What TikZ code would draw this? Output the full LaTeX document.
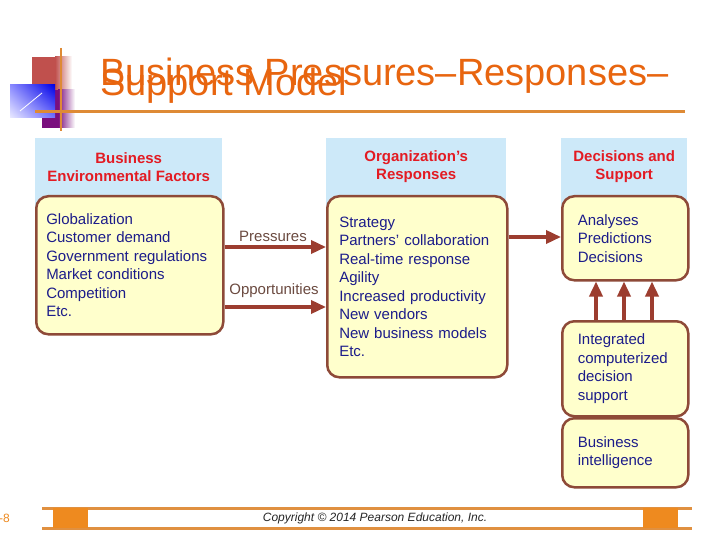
\documentclass[tikz,border=0pt]{standalone}
\usepackage{fontspec}
\setmainfont{Liberation Sans}
\usetikzlibrary{arrows.meta,shadings}
\definecolor{titleorange}{HTML}{E8650F}
\definecolor{titleline}{HTML}{DE8A35}
\definecolor{logored}{HTML}{C0504D}
\definecolor{logopurple}{HTML}{7A0F7E}
\definecolor{headfill}{HTML}{CDE9F9}
\definecolor{headred}{HTML}{E31B23}
\definecolor{boxfill}{HTML}{FFFFCC}
\definecolor{boxborder}{HTML}{8E4A38}
\definecolor{listblue}{HTML}{1C1C8A}
\definecolor{arrowc}{HTML}{9C3D2F}
\definecolor{lblc}{HTML}{6B4A40}
\definecolor{footorange}{HTML}{EE8A1F}
\definecolor{footline}{HTML}{E09040}
\tikzset{
  titletext/.style={text=titleorange, font=\fontsize{38}{38}\selectfont, inner sep=0pt, anchor=base west},
  box/.style={draw=boxborder, fill=boxfill, line width=2.5pt, rounded corners=12pt, align=left,
    inner ysep=0pt, font=\fontsize{15}{18.5}\selectfont, text=listblue, anchor=north west},
  head/.style={fill=headfill, align=center, font=\bfseries\fontsize{15}{18}\selectfont, text=headred,
    anchor=north west, inner sep=0pt, minimum height=57pt},
  arr/.style={draw=arrowc, line width=3.5pt, -{Triangle[length=15pt,width=13pt]}},
  lbl/.style={text=lblc, font=\fontsize{15}{18}\selectfont, inner sep=0pt},
}
\begin{document}
\begin{tikzpicture}[x=1pt,y=-1pt]
\useasboundingbox (0,0) rectangle (720,540);
\fill[white] (0,0) rectangle (720,540);
% logo
\fill[logored] (32,57) rectangle (55,90);
\shade[left color=logored, right color=white] (55,57) rectangle (72,90);
\fill[logopurple] (42,90) rectangle (58,128);
\shade[left color=logopurple, right color=white] (58,90) rectangle (75,128);
\shade[upper right=blue!90!black, upper left=blue!45!white, lower right=blue!55!white, lower left=blue!8!white] (10,85) rectangle (55,118);
\draw[white, line width=0.8pt] (20,111) -- (42,93);
\draw[titleline, line width=2.5pt] (61,48) -- (61,131);
\draw[titleline, line width=3pt] (35,112) -- (685,112);
% title
\node[titletext] (t1) at (100,86) {Business Pressures–Responses–};
\node[titletext] (t2) at (100,96) {Support Model};
% headers
\node[head, minimum width=187pt] (HL) at (35,138) {Business\\Environmental Factors};
\fill[headfill] (HL.south west) rectangle ++(187,15);
\node[head, minimum width=180pt] (HM) at (326,138) {Organization’s\\Responses};
\fill[headfill] (HM.south west) rectangle ++(180,15);
\node[head, minimum width=126pt] (HR) at (561,138) {Decisions and\\Support};
\fill[headfill] (HR.south west) rectangle ++(126,15);
% boxes
\node[box, text width=167pt, inner xsep=10pt, minimum height=138pt] (L) at (35,195)
  {Globalization\\Customer demand\\Government regulations\\Market conditions\\Competition\\Etc.};
\node[box, text width=156pt, inner xsep=12pt, minimum height=181pt] (M) at (326,195)
  {Strategy\\Partners’ collaboration\\Real-time response\\Agility\\Increased productivity\\New vendors\\New business models\\Etc.};
\node[box, text width=95pt, inner xsep=15.5pt, minimum height=84pt] (D) at (561,195)
  {Analyses\\Predictions\\Decisions};
\node[box, text width=95pt, inner xsep=15.5pt, minimum height=95pt] (I) at (561,320)
  {Integrated\\computerized\\decision\\support};
\node[box, text width=95pt, inner xsep=15.5pt, minimum height=69pt] (B) at (561,417)
  {Business\\intelligence};
% arrows
\coordinate (yP) at (0,247);
\coordinate (yO) at (0,307);
\coordinate (yR) at (0,237);
\coordinate (xa) at (596,0);
\coordinate (xb) at (624,0);
\coordinate (xc) at (652,0);
\draw[arr] (L.east |- yP) -- (M.west |- yP);
\draw[arr] (L.east |- yO) -- (M.west |- yO);
\draw[arr] (M.east |- yR) -- (D.west |- yR);
\draw[arr] (I.north -| xa) -- (D.south -| xa);
\draw[arr] (I.north -| xb) -- (D.south -| xb);
\draw[arr] (I.north -| xc) -- (D.south -| xc);
\node[lbl] (pl) at (273,236) {Pressures};
\node[lbl] (ol) at (274,291) {Opportunities};
% footer
\draw[footline, line width=3pt] (42,508) -- (692,508);
\draw[footline, line width=3pt] (42,528) -- (692,528);
\fill[footorange] (53,508) rectangle (88,528);
\fill[footorange] (643,508) rectangle (678,528);
\node[text=footorange, font=\fontsize{12}{12}\selectfont, anchor=east, inner sep=0pt] (pg) at (10,518) {-8};
\node[font=\itshape\fontsize{12}{12}\selectfont, text=black!85, inner sep=0pt] (cp) at (375,518) {Copyright © 2014 Pearson Education, Inc.};
\end{tikzpicture}
\end{document}
